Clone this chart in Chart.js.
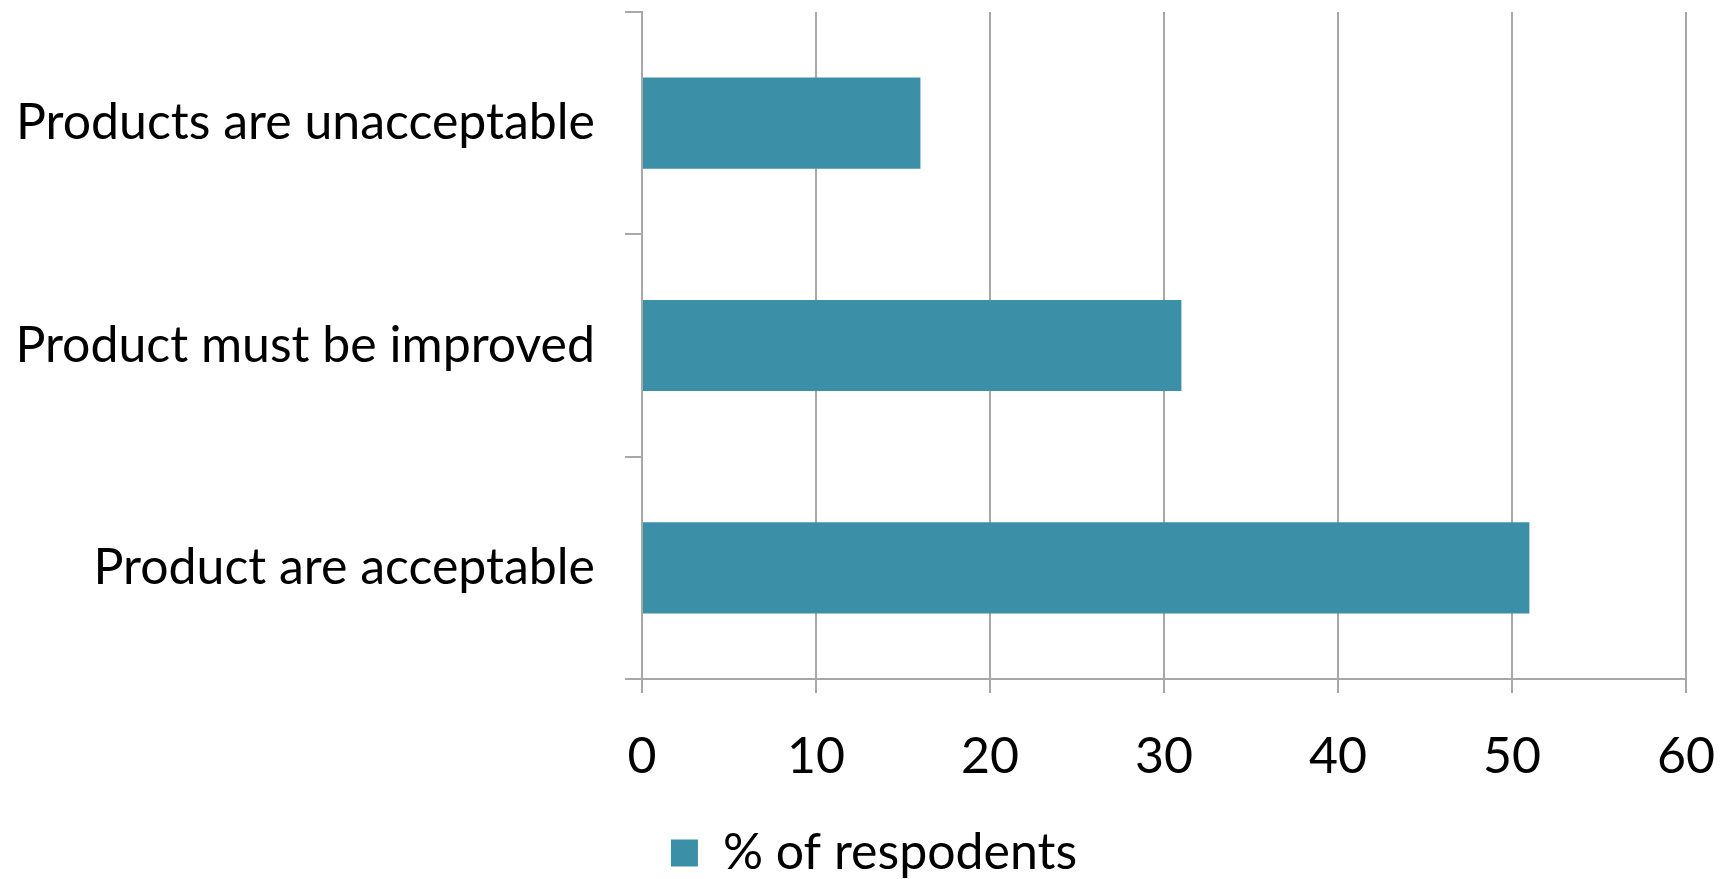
<!DOCTYPE html>
<html>
<head>
<meta charset="utf-8">
<script src="https://cdn.jsdelivr.net/npm/chart.js@4.4.1/dist/chart.umd.min.js"></script>
<style>
  html, body { margin: 0; padding: 0; background: #fff; }
  #wrap { width: 1730px; height: 879px; }
</style>
</head>
<body>
<div id="wrap"><canvas id="chart" width="1730" height="879"></canvas></div>
<script>
const categories = ['Products are unacceptable', 'Product must be improved', 'Product are acceptable'];
const respondents = [16, 31, 51];
const seriesName = '% of respodents';
const xTicks = [0, 10, 20, 30, 40, 50, 60];

const barColor = '#3b8fa7';
const gridColor = '#a8a8a8';
const fontFamily = 'Lato, "Open Sans", sans-serif';

// nudge the legend a little right and down, like the original
const legendShift = {
    id: 'legendShift',
    afterLayout(chart) {
        const lg = chart.legend;
        if (!lg) return;
        lg.left += 31; lg.right += 31;
        lg.top += 9; lg.bottom += 9;
    }
};

const ctx = document.getElementById('chart').getContext('2d');
const chart = new Chart(ctx, {
    type: 'bar',
    data: {
        labels: categories,
        datasets: [
            { label: seriesName, data: respondents, backgroundColor: barColor, borderWidth: 0,
              barPercentage: 0.41, categoryPercentage: 1 }
        ]
    },
    options: {
        indexAxis: 'y',
        responsive: false,
        animation: false,
        layout: { padding: { left: 0, right: 44, top: 12, bottom: 0 } },
        plugins: {
            legend: {
                position: 'bottom',
                labels: {
                    color: '#000',
                    font: { family: fontFamily, size: 50, lineHeight: 1 },
                    boxWidth: 27, boxHeight: 27, padding: 0
                }
            },
            tooltip: { enabled: false }
        },
        scales: {
            x: {
                min: 0, max: 60,
                afterBuildTicks: axis => { axis.ticks = xTicks.map(v => ({ value: v })); },
                border: { color: gridColor, width: 2 },
                grid: { color: gridColor, lineWidth: 2, tickLength: 14, drawTicks: true },
                ticks: { color: '#000', font: { family: fontFamily, size: 50 }, padding: 34, maxRotation: 0 },
                afterFit: axis => {
                    axis.height = 140;
                    axis.paddingLeft = 0;
                    axis.paddingRight = 0;
                }
            },
            y: {
                border: { color: gridColor, width: 2 },
                grid: { color: gridColor, lineWidth: 2, drawOnChartArea: false, tickLength: 17, offset: true },
                ticks: { color: '#000', font: { family: fontFamily, size: 50 }, padding: 30 },
                afterFit: axis => {
                    axis.width = 642;
                    axis.paddingTop = 0;
                    axis.paddingBottom = 0;
                }
            }
        }
    },
    plugins: [legendShift]
});
</script>
</body>
</html>
